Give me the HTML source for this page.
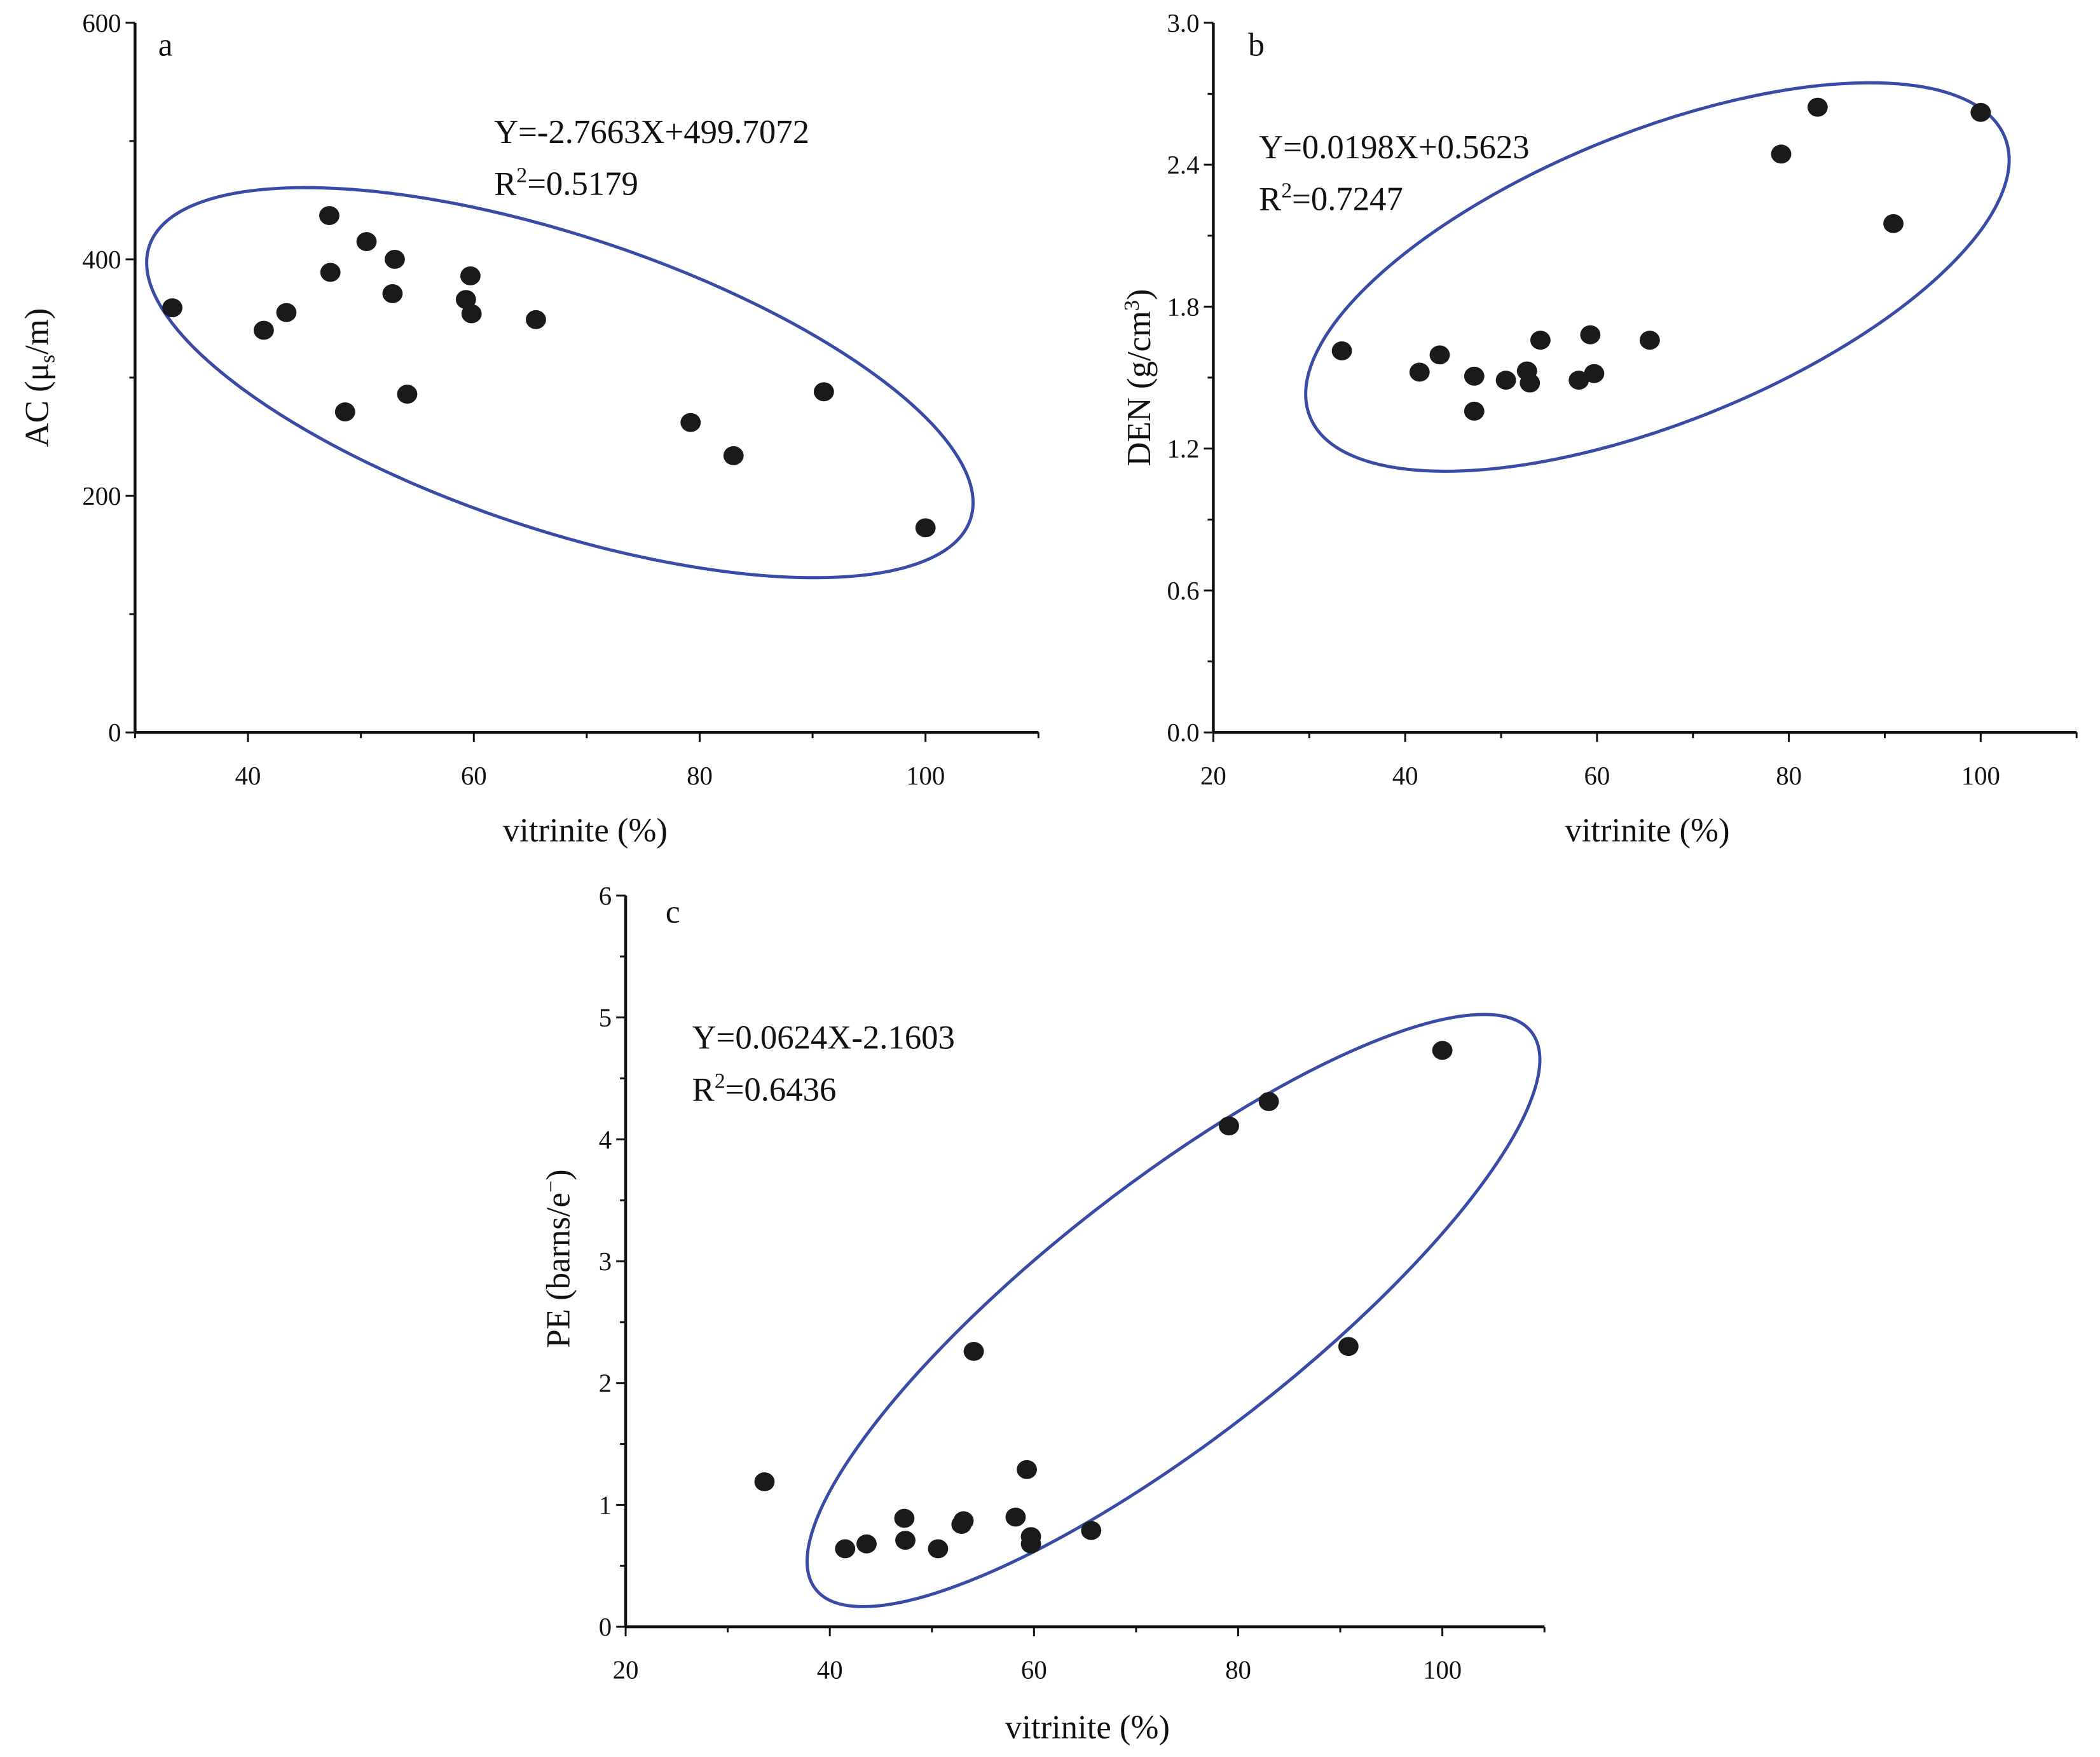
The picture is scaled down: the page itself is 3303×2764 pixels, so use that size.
<!DOCTYPE html>
<html><head><meta charset="utf-8"><style>
html,body{margin:0;padding:0;background:#fff;}
svg{display:block;font-family:"Liberation Serif",serif;}
</style></head><body>
<svg id="fig" width="3303" height="2764" viewBox="0 0 3303 2764" xmlns="http://www.w3.org/2000/svg">
<g transform="scale(0.995)">
<g id="pa"></g>
<g id="pb"></g>
<g id="pc"></g>
</g>
</svg>
<script>
// Panel a: AC vs vitrinite
const aX = [33.3,41.4,43.4,47.2,47.3,48.6,50.5,52.8,53.0,54.1,59.3,59.7,59.8,65.5,79.2,83.0,91.0,100];
const aY = [359,340,355,437,389,271,415,371,400,286,366,386,354,349,262,234,288,173];
const aYTicks = [0,200,400,600];
const aXTicks = [40,60,80,100];
// Panel b: DEN vs vitrinite
const bX = [33.4,41.5,43.6,47.2,47.2,50.5,52.7,53.0,54.1,58.1,59.3,59.7,65.5,79.2,83.0,90.9,100];
const bY = [1.613,1.523,1.596,1.506,1.358,1.489,1.528,1.477,1.658,1.489,1.681,1.517,1.658,2.445,2.643,2.151,2.621];
const bYTicks = ["0.0","0.6","1.2","1.8","2.4","3.0"];
const bXTicks = [20,40,60,80,100];
// Panel c: PE vs vitrinite
const cX = [33.6,41.5,43.6,47.3,47.4,50.6,52.9,53.1,54.1,58.2,59.3,59.7,59.7,65.6,79.1,83.0,90.8,100];
const cY = [1.19,0.64,0.68,0.89,0.71,0.64,0.84,0.87,2.26,0.90,1.29,0.74,0.68,0.79,4.11,4.31,2.30,4.73];
const cYTicks = [0,1,2,3,4,5,6];
const cXTicks = [20,40,60,80,100];

const NS="http://www.w3.org/2000/svg";
function mk(parent,tag,attrs,text){
  const e=document.createElementNS(NS,tag);
  for(const k in attrs) e.setAttribute(k,attrs[k]);
  if(text!==undefined) e.textContent=text;
  parent.appendChild(e); return e;
}
function panel(cfg){
  const g=document.getElementById(cfg.id);
  const sx=v=>cfg.px0+(v-cfg.x0)*(cfg.px1-cfg.px0)/(cfg.x1-cfg.x0);
  const sy=v=>cfg.py0+(v-cfg.y0)*(cfg.py1-cfg.py0)/(cfg.y1-cfg.y0);
  const axX=sx(cfg.xmin), axY=sy(cfg.y0);
  const el=mk(g,'ellipse',{cx:cfg.ell[0],cy:cfg.ell[1],rx:cfg.ell[2],ry:cfg.ell[3],transform:`rotate(${cfg.ell[4]} ${cfg.ell[0]} ${cfg.ell[1]})`,fill:'none',stroke:'#3a4ba6','stroke-width':5});
  
  
  const ya=mk(g,'line',{x1:axX,y1:axY,x2:axX,y2:sy(cfg.ymax),stroke:'#111','stroke-width':4.5});
  
  
  const xa=mk(g,'line',{x1:axX,y1:axY,x2:sx(cfg.xmax),y2:axY,stroke:'#111','stroke-width':4.5});
  
  
  cfg.yt.forEach((t,i)=>{
    const v=parseFloat(t), y=sy(v);
    const tk=mk(g,'line',{x1:axX-15,y1:y,x2:axX,y2:y,stroke:'#111','stroke-width':3});
    
    
    const lb=mk(g,'text',{x:axX-22,y:y+14,'font-size':41,'text-anchor':'end',fill:'#111'},String(t));
    
    
    if(i<cfg.yt.length-1){
      const m=sy((v+parseFloat(cfg.yt[i+1]))/2);
      const mt=mk(g,'line',{x1:axX-9,y1:m,x2:axX,y2:m,stroke:'#111','stroke-width':3});
      
      
    }
  });
  for(let v=cfg.xmin; v<=cfg.xmax+0.01; v+=10){
    const major=cfg.xt.indexOf(v)>=0;
    const x=sx(v);
    const tk=mk(g,'line',{x1:x,y1:axY,x2:x,y2:axY+(major?15:9),stroke:'#111','stroke-width':3});
    
    
  }
  cfg.xt.forEach(t=>{
    const lb=mk(g,'text',{x:sx(t),y:axY+82,'font-size':41,'text-anchor':'middle',fill:'#111'},String(t));
    
    
  });
  cfg.xs.forEach((xv,i)=>{
    const c=mk(g,'ellipse',{cx:sx(xv),cy:sy(cfg.ys[i]),rx:16,ry:15,fill:'#1a1a1a'});
    
    
  });
  const pl=mk(g,'text',{x:cfg.lab[0],y:cfg.lab[1],'font-size':52,fill:'#111'},cfg.lab[2]);
  
  
  const eq=mk(g,'text',{x:cfg.eq[0],y:cfg.eq[1],'font-size':53,fill:'#111'},cfg.eq[2]);
  
  
  const r2=mk(g,'text',{x:cfg.eq[0],y:cfg.eq[1]+82,'font-size':53,fill:'#111'});
  
  
  r2.innerHTML='R<tspan dy="-20" font-size="34">2</tspan><tspan dy="20">='+cfg.eq[3]+'</tspan>';
  const xt=mk(g,'text',{x:cfg.xtitle[0],y:cfg.xtitle[1],'font-size':53,'text-anchor':'middle',fill:'#111'},'vitrinite (%)');
  
  
  const yt=mk(g,'text',{x:0,y:0,'font-size':53,'text-anchor':'middle',fill:'#111',transform:`translate(${cfg.ytitle[0]} ${cfg.ytitle[1]}) rotate(-90)`});
  
  
  yt.innerHTML=cfg.ytitle[2];
}
panel({id:'pa',xs:aX,ys:aY,yt:aYTicks,xt:aXTicks,x0:40,x1:100,px0:392,px1:1463,y0:0,y1:600,py0:1158,py1:36,xmin:30,xmax:110,ymax:600,
  ell:[885,605,684,232,18.4],lab:[250,88,'a'],eq:[781,226,'Y=-2.7663X+499.7072','0.5179'],xtitle:[925,1330],
  ytitle:[76,597,'AC (μ<tspan dy="10" font-size="34">s</tspan><tspan dy="-10">/m)</tspan>']});
panel({id:'pb',xs:bX,ys:bY,yt:bYTicks,xt:bXTicks,x0:20,x1:100,px0:1918,px1:3131,y0:0,y1:3,py0:1158,py1:36,xmin:20,xmax:110,ymax:3,
  ell:[2620,438,592,230,-21.9],lab:[1973,88,'b'],eq:[1990,250,'Y=0.0198X+0.5623','0.7247'],xtitle:[2604,1330],
  ytitle:[1818,597,'DEN (g/cm<tspan dy="-18" font-size="34">3</tspan><tspan dy="18">)</tspan>']});
panel({id:'pc',xs:cX,ys:cY,yt:cYTicks,xt:cXTicks,x0:20,x1:100,px0:989,px1:2280,y0:0,y1:6,py0:2572,py1:1416,xmin:20,xmax:110,ymax:6,
  ell:[1855,2072,717,201,-37.9],lab:[1052,1459,'c'],eq:[1094,1658,'Y=0.0624X-2.1603','0.6436'],xtitle:[1719,2748],
  ytitle:[900,1990,'PE (barns/e<tspan dy="-18" font-size="34">−</tspan><tspan dy="18">)</tspan>']});
</script>
</body></html>
